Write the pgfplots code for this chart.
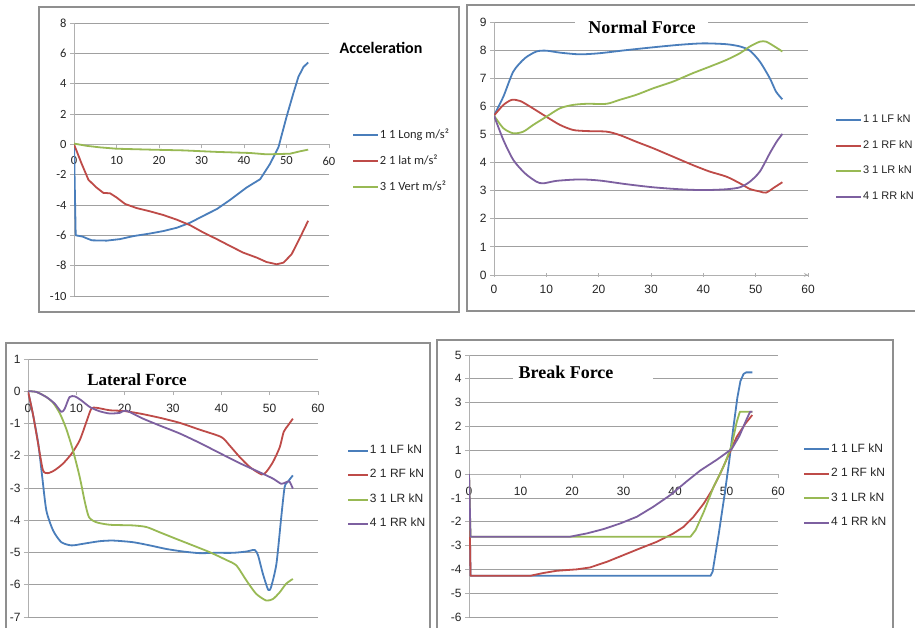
\documentclass[border=0pt]{standalone}
\usepackage{pgfplots}
\pgfplotsset{compat=1.18}
\usepackage{fontspec}
\setmainfont{Carlito}
\newfontfamily\tnr{Liberation Serif}
\newfontfamily\ars{Liberation Sans}
\definecolor{cB}{HTML}{4A7EBB}
\definecolor{cR}{HTML}{BE4B48}
\definecolor{cG}{HTML}{98B954}
\definecolor{cP}{HTML}{7D60A0}
\definecolor{grd}{HTML}{A0A0A0}
\definecolor{axc}{HTML}{B0B0B0}
\definecolor{frm}{HTML}{8F8F8F}
\pgfplotsset{
  excel/.style={
    scale only axis, anchor=south west,
    xmin=0, xmax=60, xtick={0,10,...,60},
    axis x line=middle, axis y line=left,
    axis line style={-, draw=axc, line width=0.8pt},
    ymajorgrids, major grid style={draw=grd, line width=0.8pt},
    tick style={draw=axc, line width=0.8pt},
    major tick length=4pt, tick align=outside,
    hide obscured x ticks=false, hide obscured y ticks=false,
    ticklabel style={font=\ars\fontsize{12}{13}\selectfont, text=black!85},
    xticklabel style={yshift=-5pt},
    /pgf/number format/assume math mode=true,
    every axis plot/.append style={line width=1.8pt, line join=round},
    legend cell align=left,
    legend image code/.code={\draw[##1, line width=1.8pt] (0pt,0pt) -- (25pt,0pt);},
    legend style={draw=none, fill=none, anchor=west, inner sep=0pt,
      font=\ars\fontsize{11}{12}\selectfont, text=black!85,
      nodes={inner sep=1pt, text height=7.5pt, text depth=2pt}},
  }
}
\begin{document}
\begin{tikzpicture}[x=1pt,y=1pt]
\useasboundingbox (0,0) rectangle (915,628);
\clip (0,0) rectangle (915,628);
\fill[white] (0,0) rectangle (915,628);
% frames
\draw[frm, line width=1.3pt] (39,316) rectangle (459,621);
\draw[frm, line width=1.3pt] (467,317) rectangle (920,623);
\draw[frm, line width=1.3pt] (6,-8) rectangle (430,285);
\draw[frm, line width=1.3pt] (437,-8) rectangle (893,288);

% ---------- Acceleration ----------
\begin{axis}[excel, at={(74pt,332pt)}, width=255pt, height=273pt,
  ymin=-10, ymax=8, ytick={-10,-8,...,8},
  ticklabel style={font=\fontsize{12.5}{13}\selectfont},
  legend style={at={(1.09,0.494)}, row sep=13pt, font=\fontsize{12.5}{13}\selectfont,
    nodes={text height=8.5pt, text depth=2.5pt}}]
\addplot[cB] coordinates {(0,0) (0.4,-6.0) (2,-6.08) (3,-6.2) (4.2,-6.33) (7.7,-6.35) (10.8,-6.25) (14,-6.05) (17.9,-5.88) (21,-5.72) (24.2,-5.5) (27.3,-5.17) (30.4,-4.72) (33.6,-4.27) (36.7,-3.67) (40.6,-2.85) (43.8,-2.3) (46.1,-1.3) (48.1,-0.2) (50,1.8) (51.6,3.35) (52.8,4.45) (54,5.1) (55.1,5.4)};
\addlegendentry{1 1 Long m/s²}
\addplot[cR] coordinates {(0,0) (1.8,-1.28) (3.4,-2.34) (5.3,-2.85) (6.9,-3.2) (8.5,-3.23) (10,-3.5) (12,-3.93) (14.7,-4.2) (17.9,-4.42) (21,-4.66) (24.2,-4.97) (27.3,-5.33) (30.4,-5.81) (33.6,-6.25) (36.7,-6.7) (39.8,-7.14) (43,-7.47) (45.3,-7.76) (47.7,-7.91) (49.3,-7.8) (51.2,-7.25) (53.2,-6.14) (55.1,-5.04)};
\addlegendentry{2 1 lat m/s²}
\addplot[cG] coordinates {(0,0.05) (3,-0.1) (6.1,-0.2) (10,-0.29) (17.9,-0.35) (25.7,-0.4) (33.6,-0.5) (41.4,-0.57) (45.3,-0.66) (50.8,-0.62) (53.2,-0.46) (55.1,-0.35)};
\addlegendentry{3 1 Vert m/s²}
\end{axis}

% ---------- Normal Force ----------
\begin{axis}[excel, at={(494pt,353pt)}, width=314pt, height=253pt,
  axis x line=bottom,
  ymin=0, ymax=9, ytick={0,1,...,9},
  legend style={at={(1.086,0.461)}, row sep=14pt}]
\addplot[cB, smooth, tension=0.45] coordinates {(0,5.67) (1.8,6.35) (3.7,7.24) (5.9,7.71) (8.1,7.95) (10,7.98) (12.6,7.91) (16.4,7.85) (20.2,7.89) (25.3,8.0) (30.4,8.1) (35.5,8.19) (40,8.24) (44.4,8.21) (47,8.13) (48.9,7.98) (50.8,7.59) (52.7,7.0) (53.9,6.52) (55.1,6.25)};
\addlegendentry{1 1 LF kN}
\addplot[cR, smooth, tension=0.45] coordinates {(0,5.67) (1.8,6.05) (3.4,6.23) (5,6.19) (6.9,5.99) (10,5.63) (12.6,5.34) (15.1,5.16) (17.7,5.12) (21.5,5.1) (24,4.98) (27.2,4.74) (30.4,4.51) (34.2,4.21) (38,3.91) (41.2,3.68) (44.4,3.5) (47,3.26) (48.9,3.06) (50.8,2.97) (52,2.93) (53.6,3.12) (55.1,3.3)};
\addlegendentry{2 1 RF kN}
\addplot[cG, smooth, tension=0.45] coordinates {(0,5.67) (1.8,5.22) (3.7,5.04) (5.6,5.1) (7.5,5.34) (10,5.63) (12.6,5.93) (15.1,6.05) (17.7,6.09) (21.5,6.09) (24,6.23) (27.2,6.41) (30.4,6.64) (34.2,6.88) (38,7.18) (41.2,7.41) (44.4,7.65) (47,7.89) (48.9,8.13) (50.8,8.3) (52,8.3) (53.6,8.13) (55.1,7.95)};
\addlegendentry{3 1 LR kN}
\addplot[cP, smooth, tension=0.45] coordinates {(0,5.67) (1.8,4.8) (3.7,4.09) (5.9,3.62) (8.1,3.32) (9.4,3.26) (12,3.35) (16.4,3.4) (20.2,3.36) (25.3,3.23) (30.4,3.12) (35.5,3.05) (40,3.02) (44.4,3.05) (47,3.12) (48.9,3.32) (50.8,3.68) (52.7,4.33) (54,4.74) (55.1,5.02)};
\addlegendentry{4 1 RR kN}
\end{axis}

% ---------- Lateral Force ----------
\begin{axis}[excel, at={(28pt,11pt)}, width=290pt, height=258pt,
  ymin=-7, ymax=1, ytick={-7,-6,...,1},
  legend image code/.code={\draw[#1, line width=1.8pt] (0pt,0pt) -- (20pt,0pt);},
  legend style={at={(1.10,0.502)}, row sep=13pt, font=\ars\fontsize{12}{13}\selectfont}]
\addplot[cB, smooth, tension=0.4] coordinates {(0,0) (1,-0.7) (2.1,-1.6) (2.9,-2.6) (3.8,-3.7) (5.2,-4.32) (6.9,-4.68) (9,-4.78) (11.4,-4.73) (14.8,-4.65) (17.6,-4.63) (21.7,-4.68) (25.2,-4.78) (28.6,-4.89) (32.1,-4.97) (35.5,-5.02) (39,-5.01) (42.4,-5.01) (45.2,-4.97) (46.9,-4.92) (47.6,-5.09) (48.6,-5.66) (49.7,-6.16) (50.3,-6.07) (51.4,-5.35) (52.4,-3.9) (53.1,-2.97) (53.8,-2.8) (54.8,-2.61)};
\addlegendentry{1 1 LF kN}
\addplot[cR, smooth, tension=0.4] coordinates {(0,0) (1,-0.69) (2.1,-1.63) (3.1,-2.45) (4.1,-2.54) (5.5,-2.45) (7.2,-2.25) (9,-1.94) (10.7,-1.52) (12.2,-0.9) (13.1,-0.54) (14.1,-0.51) (16.9,-0.59) (19.7,-0.61) (23.1,-0.69) (27.2,-0.82) (31.4,-0.98) (35.5,-1.19) (40,-1.42) (41.7,-1.68) (43.8,-2.04) (45.9,-2.35) (48.3,-2.58) (49.3,-2.5) (50.7,-2.19) (52.1,-1.73) (52.9,-1.26) (53.8,-1.06) (54.8,-0.85)};
\addlegendentry{2 1 RF kN}
\addplot[cG, smooth, tension=0.4] coordinates {(0,0) (1.7,-0.02) (3.8,-0.18) (5.2,-0.36) (6.6,-0.69) (7.9,-1.16) (9.3,-1.83) (10.7,-2.66) (11.7,-3.39) (12.6,-3.9) (14.1,-4.06) (16.9,-4.14) (21.7,-4.16) (24.5,-4.21) (27.2,-4.37) (30.7,-4.58) (34.1,-4.78) (37.6,-4.99) (41,-5.23) (43.1,-5.4) (45.2,-5.87) (47.2,-6.28) (49.3,-6.49) (50.7,-6.44) (52.1,-6.23) (53.4,-5.97) (54.8,-5.82)};
\addlegendentry{3 1 LR kN}
\addplot[cP, smooth, tension=0.4] coordinates {(0,0) (1.7,-0.02) (3.8,-0.18) (5.5,-0.38) (6.9,-0.64) (7.6,-0.54) (8.6,-0.18) (9.7,-0.16) (11,-0.28) (12.8,-0.49) (14.8,-0.62) (16.9,-0.69) (19,-0.67) (20.3,-0.6) (23.8,-0.85) (27.2,-1.06) (31.4,-1.31) (35.5,-1.6) (39.7,-1.92) (43.8,-2.23) (47.9,-2.51) (50.7,-2.71) (52.4,-2.87) (53.4,-2.82) (54.1,-2.8) (54.8,-3.02)};
\addlegendentry{4 1 RR kN}
\end{axis}

% ---------- Break Force ----------
\begin{axis}[excel, at={(469pt,11pt)}, width=309pt, height=262pt,
  ymin=-6, ymax=5, ytick={-6,-5,...,5},
  legend style={at={(1.081,0.50)}, row sep=13pt, font=\ars\fontsize{12}{13}\selectfont}]
\addplot[cB] coordinates {(0,0) (0.3,-4.27) (46.9,-4.27) (47.3,-4.1) (48.5,-2.5) (49.6,-0.9) (50.5,0.5) (51.3,1.9) (52.1,3.2) (52.7,3.9) (53.3,4.2) (53.8,4.27) (55,4.27)};
\addlegendentry{1 1 LF kN}
\addplot[cR] coordinates {(0,0) (0.3,-4.27) (11.9,-4.27) (14.5,-4.15) (17,-4.06) (20.9,-4.0) (23.5,-3.92) (26.8,-3.68) (30,-3.4) (33.2,-3.12) (36.5,-2.84) (39.7,-2.49) (41.7,-2.21) (43.6,-1.79) (45.6,-1.23) (47.2,-0.67) (48.8,0.03) (50.4,0.8) (52,1.57) (53.7,2.13) (55,2.48)};
\addlegendentry{2 1 RF kN}
\addplot[cG] coordinates {(0,0) (0.3,-2.63) (43,-2.63) (44,-2.35) (45.6,-1.58) (47.5,-0.53) (49.5,0.35) (51,1.2) (52,2.2) (52.6,2.62) (55,2.62)};
\addlegendentry{3 1 LR kN}
\addplot[cP] coordinates {(0,0) (0.3,-2.63) (19.6,-2.63) (22.9,-2.49) (26.1,-2.31) (29.4,-2.07) (32.6,-1.79) (35.8,-1.37) (39.1,-0.88) (42.3,-0.3) (44.9,0.15) (48.1,0.6) (51,1.05) (52.5,1.6) (54,2.35) (54.6,2.62) (55,2.62)};
\addlegendentry{4 1 RR kN}
\end{axis}

% titles
\node[font=\bfseries\fontsize{16}{18}\selectfont] at (381,580) {Acceleration};
\fill[white] (575,592) rectangle (708,614);
\node[font=\tnr\bfseries\fontsize{18}{20}\selectfont] at (642,601) {Normal Force};
\node[font=\tnr\bfseries\fontsize{17}{19}\selectfont] at (137,248) {Lateral Force};
\fill[white] (513,238) rectangle (653,266);
\node[font=\tnr\bfseries\fontsize{18}{20}\selectfont] at (566,256) {Break Force};
\end{tikzpicture}
\end{document}
